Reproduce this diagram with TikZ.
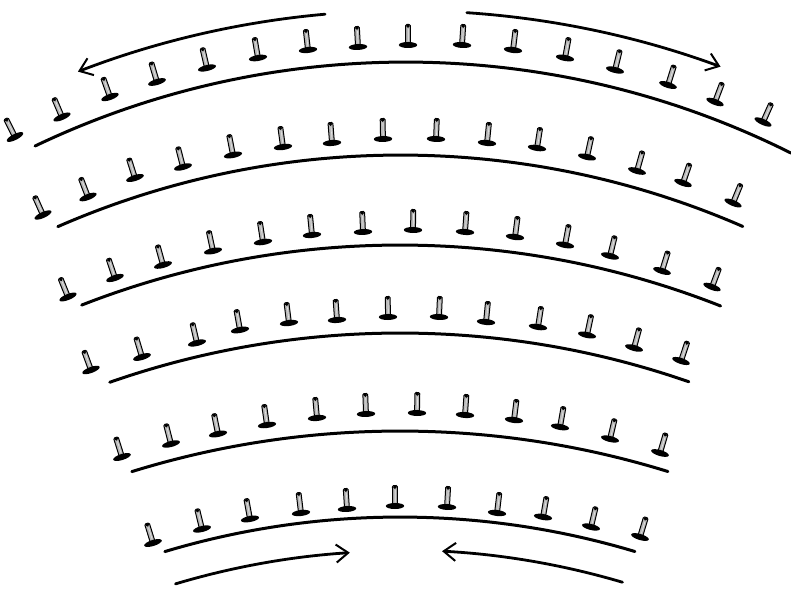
\documentclass[tikz,border=0pt]{standalone}
\usetikzlibrary{arrows.meta}
\tikzset{
  rowline/.style={line width=3pt, line cap=round},
  flowarrow/.style={line width=2.8pt, line cap=round,
    -{Straight Barb[length=12pt, width=18pt, line width=2pt]}},
  seat/.pic={
    \draw[line width=1pt, fill=gray!55, rounded corners=1.2] (-2.4,-1.5) rectangle (2.4,-20.5);
    \draw[line width=0.6pt, white!80!gray] (0.3,-4) -- (0.3,-16);
    \fill[black] (0,-19) circle[radius=1.9];
    \fill[black] (0,0) ellipse[x radius=9.2, y radius=3];
  }
}
\newcommand\seatrow[3]{%
  \foreach \px/\py in {#3}{%
    \pgfmathsetmacro\tilt{-atan((\px-#1)/(#2-\py))}%
    \pic[rotate=\tilt] at (\px,\py) {seat};
  }%
}
\begin{document}
\begin{tikzpicture}[x=1pt,y=-1pt]
\useasboundingbox (0,0) rectangle (791,588);
\fill[white] (0,0) rectangle (791,588);

% row arcs
\draw[rowline] (405.8,922.6) ++(-115.52:860.6) arc[start angle=-115.52, end angle=-63.41, radius=860.6];
\draw[rowline] (400.5,1011) ++(-113.60:856) arc[start angle=-113.60, end angle=-66.43, radius=856];
\draw[rowline] (400,1119) ++(-111.36:874) arc[start angle=-111.36, end angle=-68.48, radius=874];
\draw[rowline] (400,1213) ++(-109.26:880) arc[start angle=-109.26, end angle=-70.84, radius=880];
\draw[rowline] (400,1338) ++(-107.20:907) arc[start angle=-107.20, end angle=-72.82, radius=907];
\draw[rowline] (400,1335) ++(-106.71:818) arc[start angle=-106.71, end angle=-73.31, radius=818];

% arrows
\draw[flowarrow] (405.8,922.6) ++(-95.08:912) arc[start angle=-95.08, end angle=-111.07, radius=912];
\draw[flowarrow] (405.8,922.6) ++(-86.16:912) arc[start angle=-86.16, end angle=-69.81, radius=912];
\draw[flowarrow] (400,1335) ++(-106.64:784) arc[start angle=-106.64, end angle=-93.67, radius=784];
\draw[flowarrow] (400,1335) ++(-73.54:785) arc[start angle=-73.54, end angle=-86.93, radius=785];

% seats
\seatrow{405.8}{922.6}{15/137,62/117,110/97,157/82,207/68,258/58,308/50,358/47,408/45,462/45,513/50,565/58,615/70,668/85,715/102,763/122}
\seatrow{400.5}{1011}{43/215,88/197,135/178,183/167,233/155,283/147,332/143,383/139,436/139,487/143,537/148,587/157,637/171,683/183,733/203}
\seatrow{400}{1119}{68/297,115/278,163/265,213/251,263/242,312/235,363/232,413/230,465/232,515/237,565/245,610/256,662/271,712/287}
\seatrow{400}{1213}{91/370,142/357,197/343,240/330,289/323,337/320,388/317,439/317,486/322,538/327,587/335,634/348,681/361}
\seatrow{400}{1338}{122/457,171/444,218/434,267/425,317/418,366/414,417/413,465/415,514/420,560/427,610/439,660/453}
\seatrow{400}{1335}{153/543,202/529,250/519,301/513,347/509,395/506,447/507,497/513,543/517,591/527,640/537}
\end{tikzpicture}
\end{document}
